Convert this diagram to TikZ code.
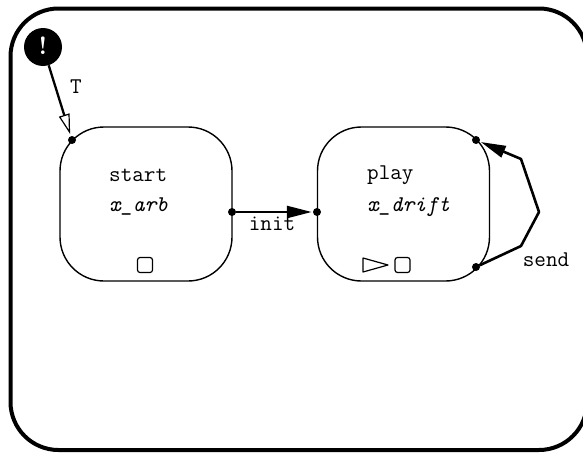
\documentclass[tikz,border=0pt]{standalone}
\usepackage{fontspec}
\usetikzlibrary{arrows.meta}

\begin{document}
\begin{tikzpicture}[x=1pt,y=-1pt,
	state/.style={draw,line width=1.4pt,rounded corners=44pt,minimum width=172pt,minimum height=154pt},
	lbl/.style={font=\ttfamily\fontsize{22.5}{23}\selectfont,inner sep=0pt},
	pin/.style={circle,fill=black,inner sep=0pt,minimum size=8pt},
	mini/.style={draw,line width=1.2pt,rounded corners=2.5pt,minimum size=15pt,inner sep=0pt},
	trans/.style={line width=2.6pt}]
				  \useasboundingbox (0,0) rectangle (583,455);
				  %CADRE
				  \draw[line width=4pt,rounded corners=48pt] (10.5,8.5) rectangle (587,450);
				  %ETATS
				  \node[state] (start) at (146,204) {};
				  \node[state] (play) at (403.5,204) {};
				  \node[lbl,anchor=west] (startname) at (109,175) {start};
				  \node[lbl,anchor=west] (startact) at (109,207) {\itshape x\_arb};
				  \node[lbl,anchor=west] (playname) at (367,175) {play};
				  \node[lbl,anchor=west] (playact) at (367,207) {\itshape x\_drift};
				  \node[mini] (startbox) at (145,265) {};
				  \node[mini] (playbox) at (402.5,265) {};
				  \draw[line width=1.2pt,line join=round] (363,258) -- (388,265) -- (363,272) -- cycle;
				  %ETAT INITIAL
				  \node[circle,fill=black,minimum size=38pt,inner sep=0pt] (init) at (43,47) {};
				  \node[text=white,font=\bfseries\fontsize{25}{25}\selectfont,inner sep=0pt] (initmark) at (43,46) {!};
				  %POINTS
				  \node[pin] (startin) at (72,140) {};
				  \node[pin] (startout) at (232,212) {};
				  \node[pin] (playin) at (317,212) {};
				  \node[pin] (playtop) at (476,140) {};
				  \node[pin] (playbot) at (476,267) {};
				  %TRANSITIONS
				  \draw[line width=2.3pt,-{Triangle[open,length=20pt,width=11pt,line width=1.2pt]},shorten >=2pt] (init) -- (startin);
				  \node[lbl] (tlbl) at (76,87) {T};
				  \draw[trans,-{Triangle[length=25pt,width=12pt]},shorten >=1pt] (startout) -- (playin);
				  \node[lbl] (initlbl) at (272,224) {init};
				  \draw[trans,line join=round,-{Triangle[length=25pt,width=12pt]},shorten >=1pt] (playbot) -- (521,246) -- (539,212) -- (521,159) -- (playtop);
				  \node[lbl] (sendlbl) at (546,260) {send};
\end{tikzpicture}
\end{document}
